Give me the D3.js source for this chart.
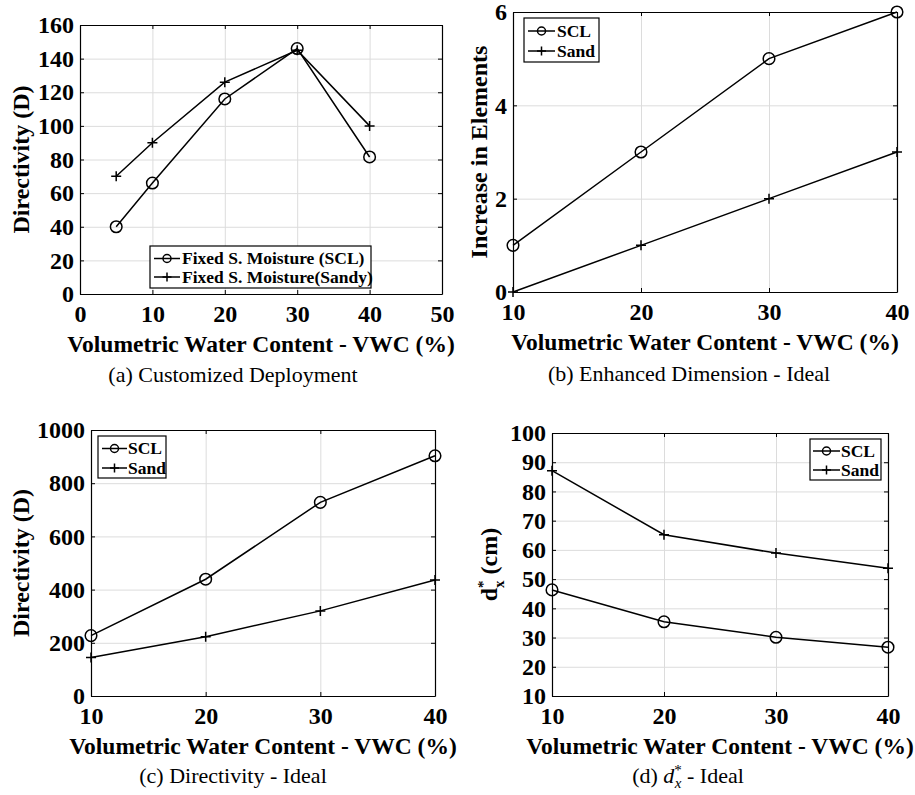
<!DOCTYPE html>
<html>
<head>
<meta charset="utf-8">
<script src="https://cdn.jsdelivr.net/npm/d3@7"></script>
<style>
  html, body { margin: 0; padding: 0; background: #fff; }
  svg { display: block; }
  text { font-family: "Liberation Serif", "Times New Roman", serif; fill: #000; }
</style>
</head>
<body>
<script>
// ---- data ----
const vwcCustom = [5, 10, 20, 30, 40];
const dirCustomScl = [40, 66, 116, 146, 81.5];
const dirCustomSandy = [70, 90, 126, 145, 100];

const vwcIdeal = [10, 20, 30, 40];
const elemScl = [1, 3, 5, 6];
const elemSand = [0, 1, 2, 3];
const dirScl = [227, 439, 728, 903];
const dirSand = [145, 223, 320, 436];
const dxScl = [46.3, 35.4, 30.1, 26.7];
const dxSand = [87.1, 65.2, 58.9, 53.7];

// ---- ticks ----
const ticksXCustom = [0, 10, 20, 30, 40, 50];
const ticksYCustom = [0, 20, 40, 60, 80, 100, 120, 140, 160];
const ticksXIdeal = [10, 20, 30, 40];
const ticksYElem = [0, 2, 4, 6];
const ticksYDir = [0, 200, 400, 600, 800, 1000];
const ticksYDx = [10, 20, 30, 40, 50, 60, 70, 80, 90, 100];

const xLabel = "Volumetric Water Content - VWC (%)";
const fmt = d3.format("d");

const svg = d3.select("body").append("svg")
  .attr("width", 915).attr("height", 795);

function circleMarker(g, x, y, r) {
  g.append("circle").attr("cx", x).attr("cy", y).attr("r", r)
    .attr("fill", "none").attr("stroke", "#000").attr("stroke-width", 1.5);
}
function plusMarker(g, x, y, s) {
  g.append("path").attr("d", `M${x - s},${y}H${x + s}M${x},${y - s}V${y + s}`)
    .attr("fill", "none").attr("stroke", "#000").attr("stroke-width", 1.5);
}

function panel(cfg) {
  const g = svg.append("g");
  const x = d3.scaleLinear().domain(cfg.xDomain).range([cfg.left, cfg.right]);
  const y = d3.scaleLinear().domain(cfg.yDomain).range([cfg.bottom, cfg.top]);
  const w = cfg.right - cfg.left, h = cfg.bottom - cfg.top;

  // grid
  const grid = g.append("g").attr("class", "grid");
  grid.append("g").attr("transform", `translate(0,${cfg.bottom})`)
    .call(d3.axisBottom(x).tickValues(cfg.xTicks).tickSize(-h).tickFormat(""));
  grid.append("g").attr("transform", `translate(${cfg.left},0)`)
    .call(d3.axisLeft(y).tickValues(cfg.yTicks).tickSize(-w).tickFormat(""));
  grid.selectAll(".domain").remove();
  grid.selectAll("line").attr("stroke", "#dcdcdc").attr("stroke-width", 1);

  // series
  const line = d3.line().x(d => x(d[0])).y(d => y(d[1]));
  cfg.series.forEach(s => {
    const pts = cfg.xs.map((v, i) => [v, s.values[i]]);
    g.append("path").datum(pts).attr("d", line)
      .attr("fill", "none").attr("stroke", "#000").attr("stroke-width", 1.5);
    pts.forEach(p => {
      if (s.marker === "o") circleMarker(g, x(p[0]), y(p[1]), 5.8);
      else plusMarker(g, x(p[0]), y(p[1]), 5);
    });
  });

  // axes with inward ticks on all sides
  const ax = g.append("g").attr("class", "axes");
  ax.append("g").attr("transform", `translate(0,${cfg.bottom})`)
    .call(d3.axisBottom(x).tickValues(cfg.xTicks).tickFormat(fmt)
      .tickSize(-4).tickSizeOuter(0).tickPadding(11));
  ax.append("g").attr("transform", `translate(${cfg.left},0)`)
    .call(d3.axisLeft(y).tickValues(cfg.yTicks).tickFormat(fmt)
      .tickSize(-4).tickSizeOuter(0).tickPadding(6));
  ax.append("g").attr("transform", `translate(0,${cfg.top})`)
    .call(d3.axisTop(x).tickValues(cfg.xTicks).tickSize(-4).tickSizeOuter(0).tickFormat(""));
  ax.append("g").attr("transform", `translate(${cfg.right},0)`)
    .call(d3.axisRight(y).tickValues(cfg.yTicks).tickSize(-4).tickSizeOuter(0).tickFormat(""));
  ax.selectAll(".domain").attr("stroke", "#000").attr("stroke-width", 1.2);
  ax.selectAll(".tick line").attr("stroke", "#000").attr("stroke-width", 1);
  ax.selectAll("text")
    .style("font-family", '"Liberation Serif", "Times New Roman", serif')
    .style("font-size", "24px").style("font-weight", "bold").attr("fill", "#000");

  // x label
  g.append("text").attr("x", (cfg.left + cfg.right) / 2).attr("y", cfg.bottom + 58)
    .attr("text-anchor", "middle").style("font-size", "23.5px").style("font-weight", "bold")
    .text(xLabel);

  // y label
  const yl = g.append("text")
    .attr("transform", `translate(${cfg.yLabelX},${(cfg.top + cfg.bottom) / 2}) rotate(-90)`)
    .attr("text-anchor", "middle").style("font-size", "24px").style("font-weight", "bold");
  cfg.yLabel(yl);

  // caption
  const cap = g.append("text").attr("x", cfg.capX).attr("y", cfg.capY)
    .attr("text-anchor", "middle").style("font-size", "22px");
  cfg.caption(cap);

  // legend
  const L = cfg.legend;
  const lg = g.append("g");
  lg.append("rect").attr("x", L.x0).attr("y", L.y0)
    .attr("width", L.x1 - L.x0).attr("height", L.y1 - L.y0)
    .attr("fill", "#fff").attr("stroke", "#000").attr("stroke-width", 1.2);
  cfg.series.forEach((s, i) => {
    const ry = L.rows[i];
    lg.append("line").attr("x1", L.s0).attr("x2", L.s1).attr("y1", ry).attr("y2", ry)
      .attr("stroke", "#000").attr("stroke-width", 1.5);
    const mx = (L.s0 + L.s1) / 2;
    if (s.marker === "o") circleMarker(lg, mx, ry, 4);
    else plusMarker(lg, mx, ry, 4.5);
    lg.append("text").attr("x", L.tx).attr("y", ry).attr("dy", "0.34em")
      .style("font-size", "17.5px").style("font-weight", "bold").text(s.name);
  });
}

// (a) customized deployment
panel({
  left: 80, right: 442, top: 25, bottom: 294,
  xDomain: [0, 50], yDomain: [0, 160],
  xTicks: ticksXCustom, yTicks: ticksYCustom,
  xs: vwcCustom,
  series: [
    { name: "Fixed S. Moisture (SCL)", values: dirCustomScl, marker: "o" },
    { name: "Fixed S. Moisture(Sandy)", values: dirCustomSandy, marker: "+" }
  ],
  yLabelX: 29,
  yLabel: t => t.text("Directivity (D)"),
  capX: 233, capY: 382,
  caption: t => t.text("(a) Customized Deployment"),
  legend: { x0: 150, x1: 371, y0: 246, y1: 288, rows: [258.5, 277], s0: 154, s1: 180, tx: 182 }
});

// (b) enhanced dimension
panel({
  left: 513, right: 897, top: 12, bottom: 292,
  xDomain: [10, 40], yDomain: [0, 6],
  xTicks: ticksXIdeal, yTicks: ticksYElem,
  xs: vwcIdeal,
  series: [
    { name: "SCL", values: elemScl, marker: "o" },
    { name: "Sand", values: elemSand, marker: "+" }
  ],
  yLabelX: 487,
  yLabel: t => t.text("Increase in Elements"),
  capX: 689, capY: 381,
  caption: t => t.text("(b) Enhanced Dimension - Ideal"),
  legend: { x0: 524, x1: 599, y0: 18, y1: 62, rows: [31, 51], s0: 528, s1: 555, tx: 557 }
});

// (c) directivity
panel({
  left: 91, right: 435, top: 430, bottom: 696,
  xDomain: [10, 40], yDomain: [0, 1000],
  xTicks: ticksXIdeal, yTicks: ticksYDir,
  xs: vwcIdeal,
  series: [
    { name: "SCL", values: dirScl, marker: "o" },
    { name: "Sand", values: dirSand, marker: "+" }
  ],
  yLabelX: 29,
  yLabel: t => t.text("Directivity (D)"),
  capX: 233, capY: 783,
  caption: t => t.text("(c) Directivity - Ideal"),
  legend: { x0: 98, x1: 166, y0: 436, y1: 478, rows: [448.5, 468], s0: 102, s1: 127, tx: 128 }
});

// (d) optimal spacing d*_x
panel({
  left: 552, right: 888, top: 433, bottom: 696,
  xDomain: [10, 40], yDomain: [10, 100],
  xTicks: ticksXIdeal, yTicks: ticksYDx,
  xs: vwcIdeal,
  series: [
    { name: "SCL", values: dxScl, marker: "o" },
    { name: "Sand", values: dxSand, marker: "+" }
  ],
  yLabelX: 497,
  yLabel: t => {
    t.append("tspan").text("d");
    t.append("tspan").attr("dy", -9).style("font-size", "15px").text("*");
    t.append("tspan").attr("dx", -7.5).attr("dy", 16).style("font-size", "15px").text("x");
    t.append("tspan").attr("dy", -7).text(" (cm)");
  },
  capX: 688, capY: 783,
  caption: t => {
    t.append("tspan").text("(d) ");
    t.append("tspan").style("font-style", "italic").text("d");
    t.append("tspan").attr("dy", -8).style("font-size", "15px").text("*");
    t.append("tspan").attr("dx", -7).attr("dy", 13).style("font-size", "15px").style("font-style", "italic").text("x");
    t.append("tspan").attr("dy", -5).text(" - Ideal");
  },
  legend: { x0: 810, x1: 881, y0: 439, y1: 480, rows: [451, 470], s0: 813, s1: 840, tx: 841 }
});
</script>
</body>
</html>
